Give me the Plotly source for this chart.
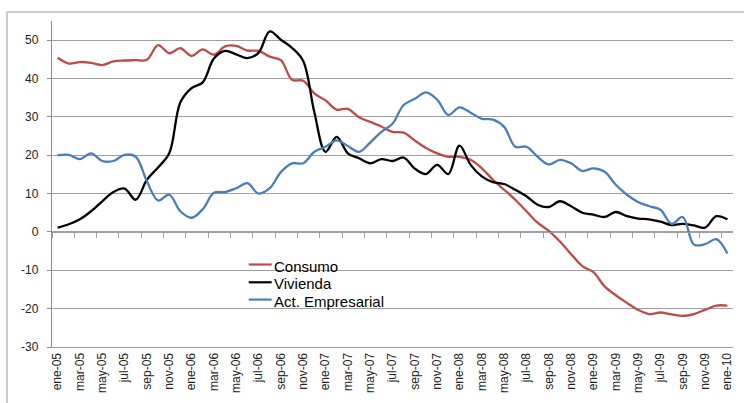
import plotly.graph_objects as go

months = []
for yr in ["05", "06", "07", "08", "09"]:
    for m in ["ene", "feb", "mar", "abr", "may", "jun", "jul", "ago", "sep", "oct", "nov", "dic"]:
        months.append(f"{m}-{yr}")
months.append("ene-10")

consumo = [45.4, 43.9, 44.3, 44.1, 43.5, 44.5, 44.7, 44.8, 44.9, 48.7,
           46.6, 47.9, 45.9, 47.6, 46.2, 48.4, 48.5, 47.3, 47.2, 45.7,
           44.8, 39.7, 39.4, 36.1, 34.3, 31.9, 32.1, 29.9, 28.7, 27.5,
           26.1, 25.9, 23.8, 21.9, 20.5, 19.6, 19.6, 18.8, 16.6, 13.6,
           11.0, 8.4, 5.4, 2.4, 0.3, -2.5, -5.8, -8.9, -10.5, -14.2,
           -16.5, -18.5, -20.3, -21.4, -21.0, -21.5, -21.9, -21.4, -20.3, -19.2,
           -19.2]
vivienda = [1.1, 2.0, 3.3, 5.4, 8.0, 10.4, 11.3, 8.4, 13.6, 16.8,
            20.5, 33.8, 37.5, 39.0, 45.2, 47.2, 46.3, 45.3, 46.7, 52.3,
            50.1, 48.0, 44.6, 31.2, 20.9, 24.8, 20.5, 19.2, 17.9, 19.0,
            18.5, 19.4, 16.5, 15.1, 17.5, 15.1, 22.5, 17.5, 14.5, 13.0,
            12.5, 11.0, 9.3, 7.1, 6.5, 8.0, 6.7, 5.0, 4.5, 3.9,
            5.2, 4.1, 3.5, 3.3, 2.7, 1.8, 2.1, 1.7, 1.1, 4.1,
            3.3]
empresarial = [20.0, 20.1, 19.0, 20.5, 18.5, 18.5, 20.1, 19.6, 13.2, 8.2,
               9.7, 5.4, 3.7, 5.9, 10.2, 10.4, 11.4, 12.7, 10.0, 11.4,
               15.6, 17.9, 17.9, 20.9, 22.2, 23.9, 22.4, 20.9, 23.3, 26.1,
               28.2, 33.1, 34.7, 36.4, 34.5, 30.5, 32.5, 31.1, 29.5, 29.3,
               27.4, 22.2, 22.2, 19.6, 17.6, 18.8, 17.9, 15.9, 16.6, 15.7,
               12.3, 9.7, 7.8, 6.7, 5.8, 2.1, 3.9, -3.3, -3.2, -1.9,
               -5.6]

series_names = ["Consumo", "Vivienda", "Act. Empresarial"]
series_values = [consumo, vivienda, empresarial]
series_colors = ["#BE4B48", "#000000", "#4A7EBB"]

x_tick_labels = months[::2]
y_tick_values = [-30, -20, -10, 0, 10, 20, 30, 40, 50]
y_tick_labels = ["-30", "-20", "-10", "0", "10", "20", "30", "40", "50"]

FONT = "Liberation Sans, Arial, sans-serif"
GRID = "#a0a0a0"

fig = go.Figure()
for name, vals, col in zip(series_names, series_values, series_colors):
    fig.add_trace(go.Scatter(x=months, y=vals, name=name, mode="lines",
                             line=dict(color=col, width=2.3, shape="spline", smoothing=1.0),
                             showlegend=False))

# helper trace so that the zero-line tick axis is drawn
fig.add_trace(go.Scatter(x=[-0.5], y=[0], xaxis="x2", yaxis="y", mode="lines",
                         showlegend=False, hoverinfo="skip", line=dict(width=0)))

ymin, ymax = -30, 55
fig.update_layout(
    width=744, height=403,
    margin=dict(l=52, r=10, t=21, b=52),
    paper_bgcolor="white", plot_bgcolor="white",
    font=dict(family=FONT, color="#222222"),
    xaxis=dict(type="category", range=[-0.5, 60.5], tickmode="array",
               tickvals=x_tick_labels, ticktext=x_tick_labels, tickangle=-90,
               tickfont=dict(size=12, family=FONT, color="#222222"),
               showgrid=False, showline=True, linecolor=GRID, linewidth=1.3,
               ticks="", zeroline=False),
    xaxis2=dict(overlaying="x", anchor="free", position=(0 - ymin) / (ymax - ymin),
                side="bottom", range=[-0.5, 60.5], tickmode="array",
                tickvals=[i - 0.5 for i in range(0, 61, 2)],
                showticklabels=False, ticks="outside", ticklen=5, tickcolor=GRID,
                tickwidth=1.2, showline=True, linecolor=GRID, linewidth=1.3,
                showgrid=False, zeroline=False),
    yaxis=dict(range=[ymin, ymax], tickmode="array", tickvals=y_tick_values,
               ticktext=y_tick_labels, tickfont=dict(size=12, family=FONT, color="#222222"),
               showgrid=True, gridcolor=GRID, gridwidth=1.3,
               zeroline=True, zerolinecolor=GRID, zerolinewidth=1.3,
               showline=True, linecolor="#8c8c8c", linewidth=1.3,
               ticks="outside", ticklen=4, tickcolor="#8c8c8c", ticklabelstandoff=6),
)

# outer chart border
fig.add_shape(type="rect", xref="paper", yref="paper",
              x0=(7 - 52) / 682, x1=1.2, y0=-0.3, y1=(351 - 12) / 330,
              line=dict(color="#bdbdbd", width=1.5), fillcolor="rgba(0,0,0,0)", layer="above")

# legend (inside the plot area)
leg_x_line0, leg_x_line1, leg_x_text = (249 - 52) / 682, (272 - 52) / 682, (273 - 52) / 682
leg_line_rows = [(351 - 267.5) / 330, (351 - 285.5) / 330, (351 - 303) / 330]
leg_text_rows = [(351 - 269.5) / 330, (351 - 287) / 330, (351 - 304.5) / 330]
for name, col, yl, yt in zip(series_names, series_colors, leg_line_rows, leg_text_rows):
    fig.add_shape(type="line", xref="paper", yref="paper", x0=leg_x_line0, x1=leg_x_line1,
                  y0=yl, y1=yl, line=dict(color=col, width=2.2))
    fig.add_annotation(xref="paper", yref="paper", x=leg_x_text, y=yt, text=name,
                       showarrow=False, xanchor="left", yanchor="middle",
                       font=dict(size=15, family=FONT, color="#000000"), borderpad=0)

fig.write_html("out.html", config={"displayModeBar": False},
               post_script="document.body.style.margin='0';document.body.style.padding='0';")
